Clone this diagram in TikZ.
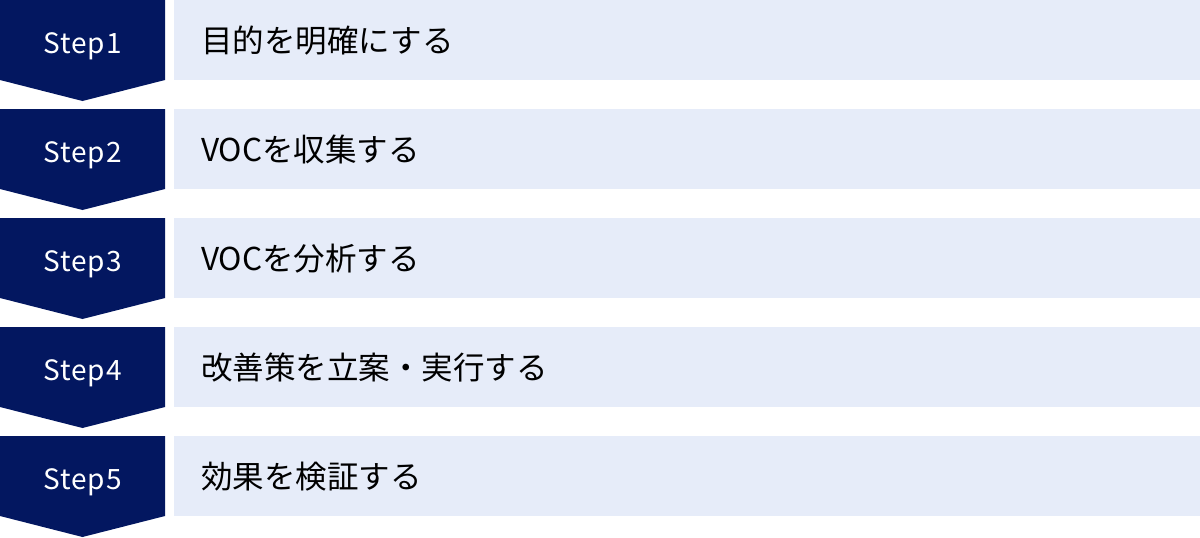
\documentclass[tikz,border=0pt]{standalone}
\usepackage{fontspec}
\setmainfont{Noto Sans CJK JP}
\newfontfamily\stepfont[LetterSpace=4]{Noto Sans CJK JP}
\definecolor{navy}{RGB}{3,23,96}
\definecolor{lightbox}{RGB}{230,236,249}
\begin{document}
\begin{tikzpicture}[x=1pt,y=-1pt,
  steplabel/.style={text=white,font=\stepfont\fontsize{28}{32}\selectfont,anchor=base,inner sep=0pt},
  boxlabel/.style={text=black,font=\fontsize{31.5}{36}\selectfont,anchor=base west,inner sep=0pt},
  chevron/.style={fill=navy,draw=none},
  lightrect/.style={fill=lightbox,draw=none}]
\useasboundingbox (0,0) rectangle (1200,538);
\foreach \i/\txt in {1/目的を明確にする,2/VOCを収集する,3/VOCを分析する,4/改善策を立案・実行する,5/効果を検証する}{
  \pgfmathsetmacro{\top}{109*(\i-1)}
  \fill[chevron] (0,\top) -- (165,\top) -- (165,\top+80) -- (82.5,\top+101) -- (0,\top+80) -- cycle;
  \fill[lightrect] (174,\top) rectangle (1200,\top+80);
  \node[steplabel] (s\i) at (82.5,\top+53) {Step\i};
  \node[boxlabel] (t\i) at (201,\top+52) {\txt};
}
\end{tikzpicture}
\end{document}
